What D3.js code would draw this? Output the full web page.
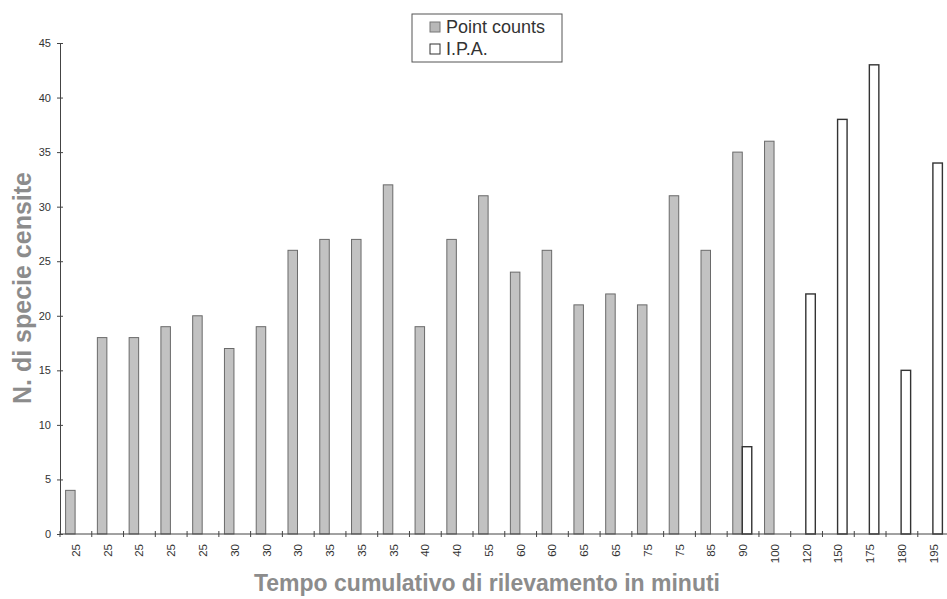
<!DOCTYPE html>
<html>
<head>
<meta charset="utf-8">
<script src="https://cdn.jsdelivr.net/npm/d3@7"></script>
<style>
body { margin: 0; background: #fff; }
svg { font-family: "Liberation Sans", Arial, sans-serif; }
</style>
</head>
<body>
<svg class="chart" width="947" height="599"></svg>
<script>
var minutes = ["25","25","25","25","25","30","30","30","35","35","35","40","40","55","60","60","65","65","75","75","85","90","100","120","150","175","180","195"];
var pointCounts = [4,18,18,19,20,17,19,26,27,27,32,19,27,31,24,26,21,22,21,31,26,35,36,null,null,null,null,null];
var ipa = [null,null,null,null,null,null,null,null,null,null,null,null,null,null,null,null,null,null,null,null,null,8,null,22,38,43,15,34];
var yTicks = [0,5,10,15,20,25,30,35,40,45];

var rows = minutes.map(function(m, i) {
  return { i: i, label: m, pc: pointCounts[i], ipa: ipa[i] };
});

var svg = d3.select(".chart");
var plotLeft = 60, plotBottom = 534, plotTop = 43, bandW = 31.77;

var x = d3.scaleBand().domain(d3.range(minutes.length)).range([plotLeft, plotLeft + bandW * minutes.length]).padding(0);
var x1 = d3.scaleBand().domain(["pc", "ipa"]).range([5.6, 24.6]).padding(0);
var y = d3.scaleLinear().domain([0, 45]).range([plotBottom, plotTop]);

// bars
var g = svg.selectAll("g.grp").data(rows).enter().append("g")
  .attr("class", "grp")
  .attr("transform", function(d) { return "translate(" + x(d.i) + ",0)"; });

g.filter(function(d) { return d.pc != null; }).append("rect")
  .attr("x", x1("pc"))
  .attr("y", function(d) { return y(d.pc); })
  .attr("width", x1.bandwidth())
  .attr("height", function(d) { return y(0) - y(d.pc); })
  .attr("fill", "#c2c2c2")
  .attr("stroke", "#6a6a6a")
  .attr("stroke-width", 1);

g.filter(function(d) { return d.ipa != null; }).append("rect")
  .attr("x", x1("ipa"))
  .attr("y", function(d) { return y(d.ipa); })
  .attr("width", x1.bandwidth())
  .attr("height", function(d) { return y(0) - y(d.ipa); })
  .attr("fill", "#fff")
  .attr("stroke", "#333")
  .attr("stroke-width", 1.4);

// y axis
var ya = svg.append("g").attr("transform", "translate(" + plotLeft + ",0)")
  .call(d3.axisLeft(y).tickValues(yTicks).tickSize(3).tickPadding(6));
ya.select(".domain").attr("stroke", "#444");
ya.selectAll(".tick line").attr("x2", 3).attr("x1", -3).attr("stroke", "#444");
ya.selectAll(".tick text").attr("font-size", 11).attr("fill", "#333").attr("font-family", "Liberation Sans, Arial, sans-serif");

// x axis with ticks on band edges
var xa = svg.append("g").attr("transform", "translate(0," + plotBottom + ")");
xa.append("line").attr("x1", plotLeft).attr("x2", x.range()[1]).attr("stroke", "#444");
xa.selectAll("line.tk").data(d3.range(minutes.length + 1)).enter().append("line")
  .attr("class", "tk")
  .attr("x1", function(d) { return plotLeft + d * x.bandwidth(); })
  .attr("x2", function(d) { return plotLeft + d * x.bandwidth(); })
  .attr("y1", -3).attr("y2", 3)
  .attr("stroke", "#444");
xa.selectAll("text").data(rows).enter().append("text")
  .attr("transform", function(d) { return "translate(" + (x(d.i) + x.bandwidth() / 2 + 4) + ",10) rotate(-90)"; })
  .attr("text-anchor", "end")
  .attr("font-size", 11.5)
  .attr("fill", "#333")
  .text(function(d) { return d.label; });

// axis titles
svg.append("text")
  .attr("transform", "translate(31,288) rotate(-90)")
  .attr("text-anchor", "middle")
  .attr("font-size", 25)
  .attr("font-weight", "bold")
  .attr("fill", "#8c8c8c")
  .text("N. di specie censite");

svg.append("text")
  .attr("x", 487).attr("y", 591)
  .attr("text-anchor", "middle")
  .attr("font-size", 23)
  .attr("font-weight", "bold")
  .attr("fill", "#8c8c8c")
  .text("Tempo cumulativo di rilevamento in minuti");

// legend
var lg = svg.append("g");
lg.append("rect").attr("x", 412).attr("y", 14).attr("width", 150).attr("height", 48)
  .attr("fill", "#fff").attr("stroke", "#555");
lg.append("rect").attr("x", 430).attr("y", 22).attr("width", 10).attr("height", 10)
  .attr("fill", "#b8b8b8").attr("stroke", "#777");
lg.append("text").attr("x", 446).attr("y", 33).attr("font-size", 18).attr("fill", "#333").text("Point counts");
lg.append("rect").attr("x", 430).attr("y", 44).attr("width", 10).attr("height", 10)
  .attr("fill", "#fff").attr("stroke", "#333");
lg.append("text").attr("x", 446).attr("y", 55).attr("font-size", 18).attr("fill", "#333").text("I.P.A.");
</script>
</body>
</html>
